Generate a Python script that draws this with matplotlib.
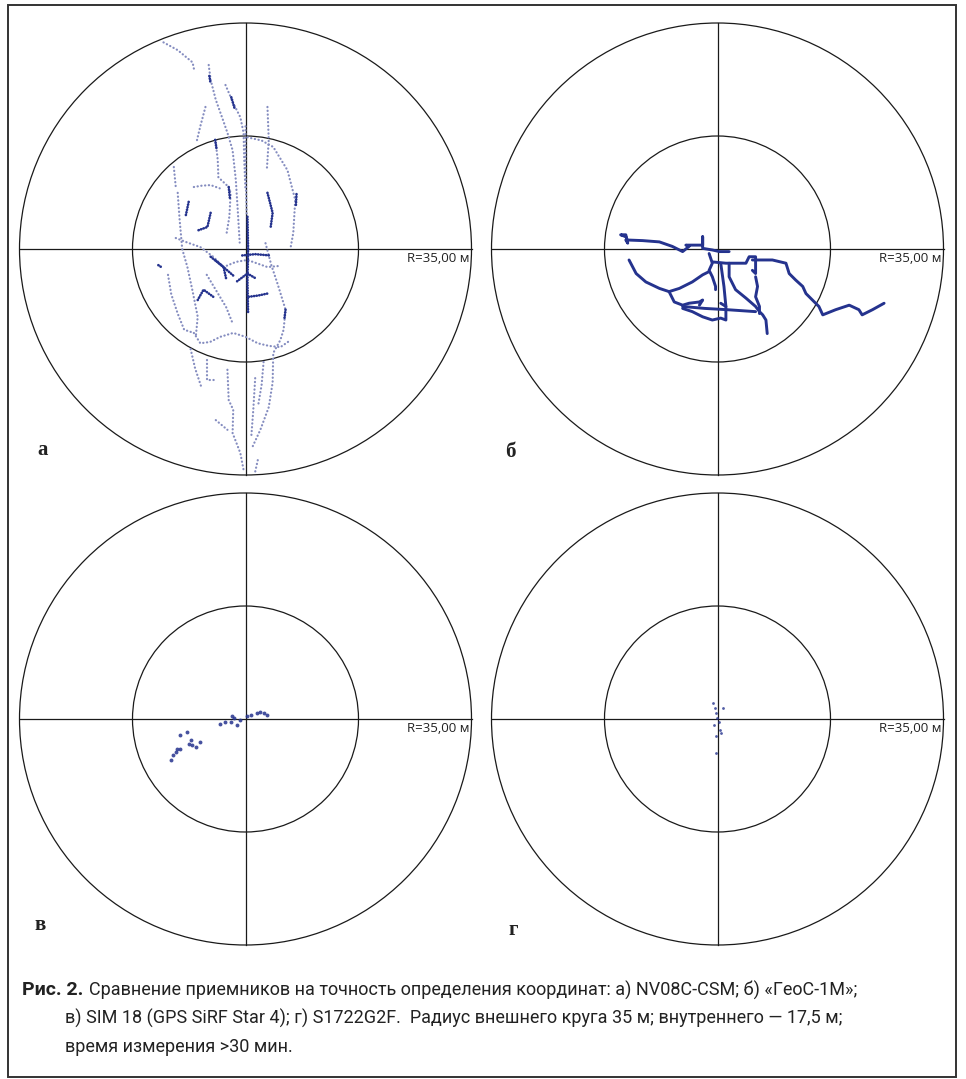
import matplotlib
matplotlib.use("Agg")
import matplotlib.pyplot as plt
from matplotlib.patches import Circle, Rectangle

W, H = 966, 1079
R_OUT = 35.0
R_IN = 17.5
R_LABEL = "R=35,00 м"
PANEL_LETTERS = ["а", "б", "в", "г"]

# ---- panel a: NV08C-CSM, dotted tracks (metres, x east / y north) ----
a_tracks = [
    [(-12.7, 32.0), (-10.5, 30.8), (-8.2, 28.9), (-7.9, 27.5)],
    [(-5.7, 28.5), (-5.4, 26.2), (-4.6, 23.1), (-3.6, 20.3), (-2.8, 18.0),
     (-2.0, 15.3), (-1.5, 10.7), (-1.2, 6.0), (-0.9, 1.0)],
    [(-3.1, 25.4), (-1.9, 22.6), (-0.8, 20.4), (-0.3, 18.0), (-0.2, 13.8), (0.0, 9.0)],
    [(3.4, 22.0), (3.6, 16.9), (3.3, 12.2)],
    [(0.3, 17.3), (2.5, 16.8), (4.3, 15.8), (6.5, 12.2), (7.7, 7.6), (7.4, 2.5), (7.0, 0.3)],
    [(-11.1, 12.7), (-10.8, 9.6)],
    [(-10.5, 8.7), (-10.2, 4.5), (-9.8, 0.0), (-9.0, -2.8), (-8.2, -6.5),
     (-7.4, -10.5), (-7.7, -13.6)],
    [(-4.6, 16.4), (-4.3, 13.8), (-4.2, 11.1), (-2.6, 9.6), (-2.3, 8.7), (-2.5, 5.0), (-3.0, 2.0)],
    [(-8.0, 9.6), (-6.8, 9.8), (-5.4, 9.9), (-4.0, 9.4)],
    [(-10.8, 1.7), (-9.0, 1.0), (-7.0, 0.3), (-5.0, -1.2), (-3.4, -2.8), (-1.5, -2.0),
     (0.3, -1.7), (2.0, -2.3), (3.4, -2.8), (5.5, -2.6)],
    [(-8.0, -13.0), (-7.0, -14.6), (-5.5, -14.4), (-3.9, -13.6), (-1.9, -13.0), (0.0, -13.6),
     (1.9, -14.6), (3.6, -15.0), (5.4, -15.2), (7.0, -14.1)],
    [(3.1, 0.9), (4.0, -2.5), (5.0, -5.5), (6.2, -9.4), (5.9, -12.5), (5.4, -14.1),
     (4.3, -16.1), (4.2, -20.7), (3.6, -24.5), (2.3, -28.0), (1.1, -30.6)],
    [(-5.9, -17.2), (-5.9, -20.3), (-4.4, -20.3)],
    [(-2.8, -18.7), (-2.6, -23.4), (-1.9, -24.9), (-2.0, -28.5), (-0.8, -31.6), (-0.3, -34.2)],
    [(1.9, -32.7), (1.5, -34.5)],
    [(-4.6, -26.5), (-2.8, -28.0)],
    [(-6.0, -4.0), (-4.5, -6.5), (-3.0, -9.0), (-2.0, -11.5)],
    [(-12.0, -4.0), (-11.5, -7.0), (-10.5, -10.0), (-9.5, -12.5), (-8.0, -13.0)],
    [(0.0, 19.0), (0.0, 12.0), (0.2, 5.0)],
    [(1.5, -20.0), (1.2, -25.0), (0.9, -29.0)],
    [(-6.2, 22.0), (-7.0, 19.0), (-7.6, 16.5)],
    [(-8.5, -15.5), (-7.8, -18.5), (-6.8, -21.5)],
    [(2.8, -17.5), (2.5, -21.0), (2.0, -24.0)],
]
# denser (darker) clusters of panel a
a_dense = [
    [(0.3, 5.0), (0.4, 0.0), (0.3, -5.0), (0.4, -9.9)],
    [(-5.4, -1.2), (-3.4, -2.8), (-1.8, -4.2)],
    [(-4.6, -1.8), (-3.4, -2.8), (-3.0, -4.6)],
    [(-7.4, -7.9), (-6.5, -6.3), (-5.0, -7.4)],
    [(3.4, 8.7), (4.2, 5.6), (3.9, 3.4)],
    [(-8.8, 7.3), (-9.3, 4.95)],
    [(-5.4, 5.6), (-5.9, 3.4), (-7.3, 2.9)],
    [(0.5, -7.4), (2.0, -7.2), (3.4, -6.9)],
    [(-13.5, -2.5), (-12.9, -2.9)],
    [(-2.6, 9.6), (-2.4, 7.7)],
    [(-0.5, -1.0), (1.5, -0.8), (3.8, -1.0)],
    [(6.2, -9.4), (6.0, -11.0)],
    [(-1.3, -5.0), (0.3, -3.8), (1.5, -4.5)],
    [(-5.6, 26.8), (-5.4, 25.6)],
    [(-2.2, 23.5), (-1.7, 21.8)],
    [(-4.7, 16.9), (-4.5, 15.6)],
    [(7.9, 8.5), (7.8, 6.7)],
]

# ---- panel б: «ГеоС-1М», continuous track ----
b_tracks = [
    [(-14.2, 1.9), (-15.0, 2.2), (-14.2, 2.2), (-13.9, 0.9), (-14.2, 1.4), (-11.6, 1.3),
     (-9.0, 1.1), (-7.0, 0.4), (-5.4, -0.4), (-4.4, 0.4), (-4.9, 0.6), (-2.3, 0.6),
     (-2.3, 1.9), (-2.3, 0.1), (-0.8, -0.15), (0.3, -0.4), (1.8, -0.4)],
    [(-1.3, -0.7), (-0.8, -2.2), (-1.3, -3.3), (-0.8, -4.3), (-0.3, -5.8), (-0.3, -6.3)],
    [(-13.7, -1.7), (-12.6, -3.8), (-11.1, -5.1), (-9.0, -6.1), (-7.5, -6.6), (-5.9, -6.1),
     (-3.9, -5.1), (-2.3, -4.0), (-1.3, -3.5)],
    [(-7.5, -6.6), (-6.7, -8.2), (-5.4, -8.7), (-4.4, -8.4), (-2.8, -8.2), (-2.3, -7.9), (-2.8, -8.7)],
    [(-5.4, -9.2), (-3.9, -9.7), (-2.3, -10.5), (-0.8, -11.0), (0.5, -10.7), (1.3, -11.0),
     (1.3, -8.9), (0.5, -8.4)],
    [(0.5, -2.2), (1.0, -5.8), (1.3, -8.9)],
    [(-0.8, -2.0), (1.3, -2.2), (4.4, -2.2), (4.9, -1.2), (5.9, -1.2), (5.9, -2.7),
     (5.9, -3.8), (5.4, -3.3)],
    [(5.4, -1.7), (8.5, -1.7), (10.6, -2.2), (11.1, -3.8), (12.1, -4.8), (13.2, -5.8),
     (13.7, -6.9), (14.7, -7.9), (15.7, -8.9), (16.3, -10.2), (18.3, -9.4), (20.4, -8.7),
     (21.9, -9.4), (22.4, -10.2), (24.0, -9.4), (25.8, -8.4)],
    [(1.8, -2.2), (1.8, -4.3), (2.8, -6.3), (4.4, -7.6), (5.9, -8.9), (6.5, -9.7),
     (7.0, -10.2), (7.5, -11.0), (7.7, -13.1)],
    [(5.9, -4.3), (6.2, -5.8), (5.9, -7.4), (6.5, -8.9), (6.5, -10.0)],
    [(-5.4, -8.9), (-2.0, -9.2), (1.5, -9.4), (5.9, -9.7)],
]

# ---- panel в: SIM 18 ----
c_x = [-11.6, -11.3, -10.8, -10.6, -10.1, -10.1, -9.0, -8.5, -8.3, -7.7, -7.0, -8.8,
       -3.9, -3.1, -2.3, -1.8, -1.3, -0.8, 0.3, 0.8, 1.8, 2.8, 3.4, 2.3, -2.1]
c_y = [-6.3, -5.6, -5.1, -4.7, -4.7, -2.5, -2.0, -3.3, -4.0, -4.3, -3.5, -3.8,
       -0.7, -0.4, -0.4, 0.1, -0.9, -0.15, 0.4, 0.6, 0.9, 0.9, 0.6, 1.1, 0.5]

# ---- panel г: S1722G2F ----
d_x = [-0.67, -0.46, -0.3, -0.15, -0.57, 0.46, 0.57, -0.3, 0.8, -0.2, 0.2]
d_y = [2.5, 1.65, 0.9, 0.1, -0.9, -1.7, -2.2, -2.6, 1.65, -5.3, -0.4]

caption_bold = "Рис. 2."
caption_lines = [
    "Сравнение приемников на точность определения координат: а) NV08C-CSM; б) «ГеоС-1М»;",
    "в) SIM 18 (GPS SiRF Star 4); г) S1722G2F.  Радиус внешнего круга 35 м; внутреннего — 17,5 м;",
    "время измерения >30 мин.",
]

DOT = "#858dc0"
NAVY = "#25338e"
INK = "#1a1a1a"

fig = plt.figure(figsize=(W / 100, H / 100), dpi=100)
fig.patch.set_facecolor("white")

R_PX = 226
centres = [(245.5, 249), (717.5, 249), (245.5, 719), (717.5, 719)]
letter_pos = [(-31.5, -31.1), (-32.0, -31.4), (-31.8, -31.9), (-31.7, -32.6)]


def make_panel(cx, cy, letter, lpos):
    ax = fig.add_axes([(cx - R_PX) / W, 1 - (cy + R_PX) / H, 2 * R_PX / W, 2 * R_PX / H])
    ax.set_xlim(-R_OUT, R_OUT)
    ax.set_ylim(-R_OUT, R_OUT)
    ax.axis("off")
    for r in (R_OUT, R_IN):
        ax.add_patch(Circle((0, 0), r, fill=False, lw=0.9, ec=INK, clip_on=False))
    ax.plot([-R_OUT, R_OUT], [0, 0], color=INK, lw=0.9, clip_on=False)
    ax.plot([0, 0], [-R_OUT, R_OUT], color=INK, lw=0.9, clip_on=False)
    ax.text(R_OUT - 0.3, -1.4, R_LABEL, ha="right", va="center", fontsize=9.5,
            family="Open Sans", color="#222")
    ax.text(lpos[0], lpos[1], letter, ha="center", va="center", fontsize=15,
            family="Liberation Serif", fontweight="bold", color="#222", clip_on=False)
    return ax


axes = [make_panel(cx, cy, l, p) for (cx, cy), l, p in zip(centres, PANEL_LETTERS, letter_pos)]

# panel a
ax = axes[0]
for tr in a_tracks:
    xs, ys = zip(*tr)
    ax.plot(xs, ys, color=DOT, lw=1.6, linestyle=(0, (0.1, 1.6)),
            dash_capstyle="round", zorder=3)
for tr in a_dense:
    xs, ys = zip(*tr)
    ax.plot(xs, ys, color=NAVY, lw=1.9, linestyle=(0, (0.1, 0.9)),
            dash_capstyle="round", zorder=4)

# panel б
ax = axes[1]
for tr in b_tracks:
    xs, ys = zip(*tr)
    ax.plot(xs, ys, color=NAVY, lw=2.1, solid_joinstyle="round",
            solid_capstyle="round", zorder=3)

# panel в
axes[2].plot(c_x, c_y, linestyle="none", marker="o", ms=2.8, mfc=NAVY, mec="none",
             alpha=0.85, zorder=3)

# panel г
axes[3].plot(d_x, d_y, linestyle="none", marker="o", ms=2.0, mfc=NAVY, mec="none",
             alpha=0.8, zorder=3)

# outer frame
fig.patches.append(Rectangle((8 / W, 1 - 1077 / H), 948 / W, 1072 / H,
                             transform=fig.transFigure, fill=False, lw=1.4, ec="#333"))

# caption
cap_font = ["Roboto", "DejaVu Sans"]
fig.text(22 / W, 1 - 990 / H, caption_bold, fontsize=14, fontweight="bold",
         family=cap_font, va="center", ha="left", color="#222")
caption_x = [89, 65, 65]
caption_y = [990, 1018, 1047]
for line, x, y in zip(caption_lines, caption_x, caption_y):
    fig.text(x / W, 1 - y / H, line, fontsize=13, family=cap_font,
             va="center", ha="left", color="#222")

fig.savefig("out.png", dpi=100)
